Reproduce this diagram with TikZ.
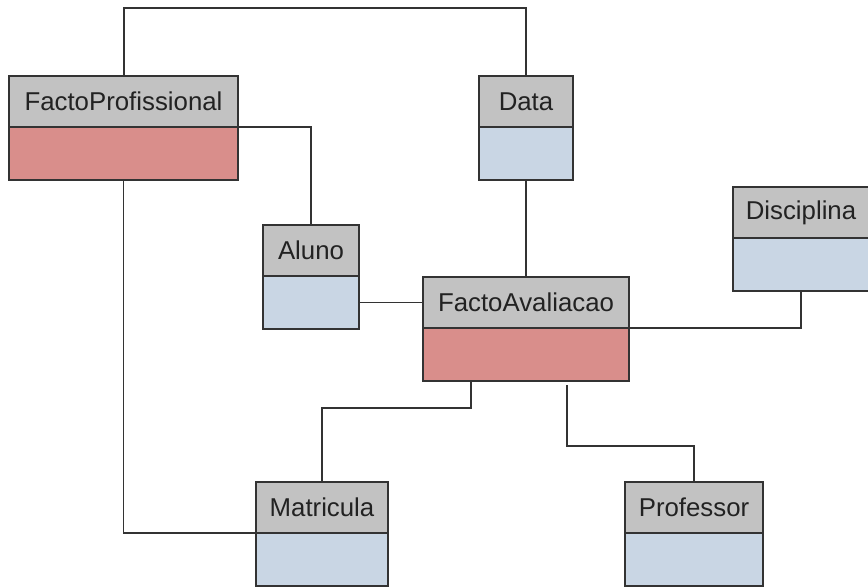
\documentclass[tikz,border=0pt]{standalone}
\usepackage{fontspec}
\setmainfont{Liberation Sans}
\definecolor{hdrgray}{HTML}{C2C2C2}
\definecolor{factred}{HTML}{D98E8B}
\definecolor{dimblue}{HTML}{C9D6E4}
\definecolor{edge}{HTML}{333333}
\definecolor{ink}{HTML}{222222}
\tikzset{
  tbl/.style={draw=edge, line width=1.8pt, inner sep=0pt, outer sep=0pt, rectangle},
  hdr/.style={tbl, fill=hdrgray, minimum height=51pt, text=ink,
              font=\fontsize{25.8}{30}\selectfont, anchor=north west},
  factbody/.style={tbl, fill=factred, minimum height=53pt, anchor=north},
  dimbody/.style={tbl, fill=dimblue, minimum height=53pt, anchor=north},
  link/.style={draw=edge, line width=1.8pt}
}
\begin{document}
\begin{tikzpicture}[x=1pt, y=-1pt]
\useasboundingbox (0,0) rectangle (868,587);
\clip (0,0) rectangle (868,587);

% free ends of connectors leaving the tables off-centre
\coordinate (fpTop)  at (124,76);
\coordinate (faLowL) at (471,380);
\coordinate (faLowR) at (567,385);

% tables: header + body
\node[hdr, minimum width=229pt] (fp) at (9,76) {FactoProfissional};
\node[factbody, minimum width=229pt] (fpb) at (fp.south) {};

\node[hdr, minimum width=94pt] (data) at (479,76) {Data};
\node[dimbody, minimum width=94pt] (datab) at (data.south) {};

\node[hdr, minimum width=136pt] (disc) at (733,187) {Disciplina};
\node[dimbody, minimum width=136pt] (discb) at (disc.south) {};

\node[hdr, minimum width=96pt] (aluno) at (263,225) {Aluno};
\node[dimbody, minimum width=96pt] (alunob) at (aluno.south) {};

\node[hdr, minimum width=206pt] (fa) at (423,277) {FactoAvaliacao};
\node[factbody, minimum width=206pt] (fab) at (fa.south) {};

\node[hdr, minimum width=132pt] (mat) at (256,482) {Matricula};
\node[dimbody, minimum width=132pt] (matb) at (mat.south) {};

\node[hdr, minimum width=138pt] (prof) at (625,482) {Professor};
\node[dimbody, minimum width=138pt] (profb) at (prof.south) {};

% relationships
\draw[link] (fpTop) -- ++(0,-68) -| (data.north);
\draw[link] (fpb.north east) -| (aluno.north);
\draw[link] (fpb.south) |- (matb.north west);
\draw[link] (datab.south) -- (fa.north);
\draw[link] (alunob.east) -- (alunob.east -| fa.west);
\draw[link] (fab.north east) -| (discb.south);
\draw[link] (faLowL) -- ++(0,28) -| (mat.north);
\draw[link] (faLowR) -- ++(0,61) -| (prof.north);
\end{tikzpicture}
\end{document}
